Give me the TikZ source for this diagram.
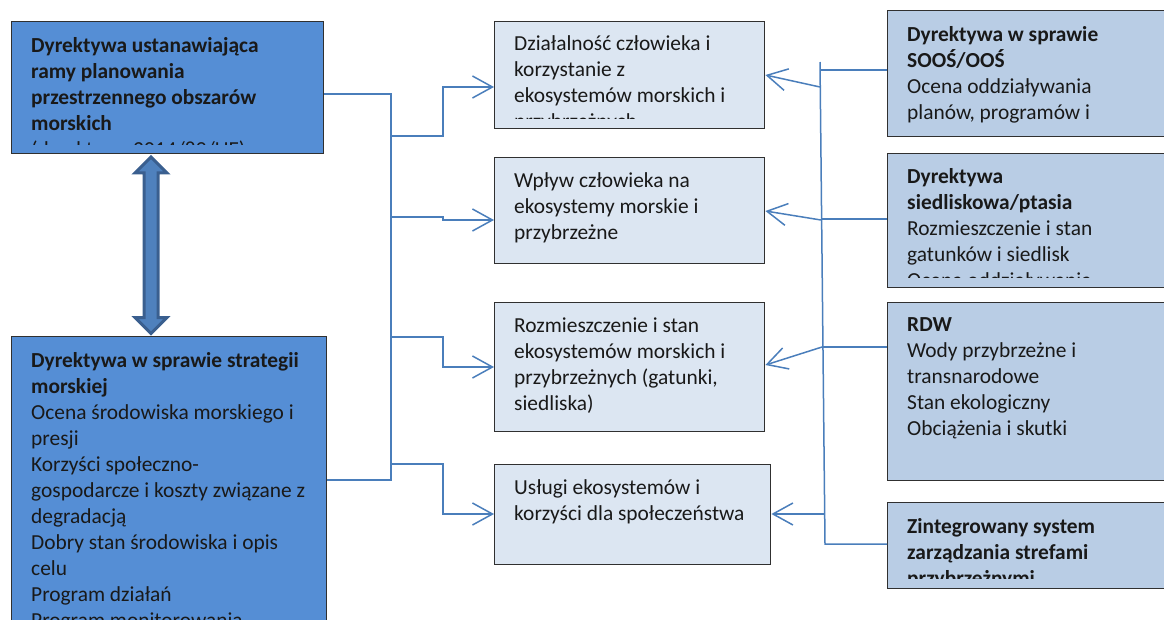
\documentclass[tikz,border=0pt]{standalone}
\usepackage{fontspec}
\setmainfont{Carlito}
\usepackage{xcolor}
\usepackage{tikz}
\usetikzlibrary{arrows.meta,calc}

\definecolor{deepbox}{HTML}{558ED5}
\definecolor{palebox}{HTML}{DCE6F2}
\definecolor{midbox}{HTML}{B9CDE5}
\definecolor{linkblue}{HTML}{4A7EBB}
\definecolor{edgegray}{HTML}{303030}
\definecolor{arrowdark}{HTML}{3A5F8F}
\definecolor{arrowfill}{HTML}{4F81BD}

\begin{document}
\begin{tikzpicture}[x=1pt,y=-1pt,
    box/.style={draw=edgegray,line width=1.4pt,anchor=north west,inner sep=0pt},
    txt/.style={anchor=north west,inner sep=0pt,align=left,text=black!90,
      font=\fontsize{21.4}{26}\selectfont,execute at begin node=\strut},
    link/.style={draw=linkblue,line width=1.5pt},
    feed/.style={link,-{Straight Barb[length=20pt,width=22pt,line width=1.5pt]}}]

    % Page
    \clip (0,0) rectangle (1164,619);

    % Left boxes
    \node[box,fill=deepbox,minimum width=312,minimum height=132] (tl) at (11,21) {};
    \node[box,fill=deepbox,minimum width=315,minimum height=289] (bl) at (11,336) {};

    % Middle boxes
    \node[box,fill=palebox,minimum width=270,minimum height=107] (m1) at (494,21) {};
    \node[box,fill=palebox,minimum width=270,minimum height=106] (m2) at (494,157) {};
    \node[box,fill=palebox,minimum width=270,minimum height=129] (m3) at (494,302) {};
    \node[box,fill=palebox,minimum width=276,minimum height=100] (m4) at (494,464) {};

    % Right boxes
    \node[box,fill=midbox,minimum width=283,minimum height=126] (r1) at (887,10) {};
    \node[box,fill=midbox,minimum width=283,minimum height=134] (r2) at (887,153) {};
    \node[box,fill=midbox,minimum width=283,minimum height=178] (r3) at (887,302) {};
    \node[box,fill=midbox,minimum width=283,minimum height=86] (r4) at (887,502) {};

    % Texts (cut a little above the box edge)
    \begin{scope}
      \clip (tl.north west) rectangle ($(tl.south east)+(0,-10)$);
      \node[txt] (tlt) at (31,36.8) {\textbf{Dyrektywa ustanawiająca}\\\textbf{ramy planowania}\\
        \textbf{przestrzennego obszarów}\\\textbf{morskich}\\(dyrektywa 2014/89/UE)};
    \end{scope}
    \node[txt] (blt) at (31,351.8) {\textbf{Dyrektywa w sprawie strategii}\\\textbf{morskiej}\\
      Ocena środowiska morskiego i\\presji\\Korzyści społeczno-\\
      gospodarcze i koszty związane z\\degradacją\\Dobry stan środowiska i opis\\
      celu\\Program działań\\Program monitorowania};

    \begin{scope}
      \clip (m1.north west) rectangle ($(m1.south east)+(0,-11)$);
      \node[txt] (m1t) at (514,35.8) {Działalność człowieka i\\korzystanie z\\
        ekosystemów morskich i\\przybrzeżnych};
    \end{scope}
    \node[txt] (m2t) at (514,172.8) {Wpływ człowieka na\\ekosystemy morskie i\\przybrzeżne};
    \node[txt] (m3t) at (514,317.8) {Rozmieszczenie i stan\\ekosystemów morskich i\\
      przybrzeżnych (gatunki,\\siedliska)};
    \node[txt] (m4t) at (514,479.8) {Usługi ekosystemów i\\korzyści dla społeczeństwa};

    \node[txt] (r1t) at (907,25.8) {\textbf{Dyrektywa w sprawie}\\\textbf{SOOŚ/OOŚ}\\
      Ocena oddziaływania\\planów, programów i};
    \begin{scope}
      \clip (r2.north west) rectangle ($(r2.south east)+(0,-11)$);
      \node[txt] (r2t) at (907,167.8) {\textbf{Dyrektywa}\\\textbf{siedliskowa/ptasia}\\
        Rozmieszczenie i stan\\gatunków i siedlisk\\Ocena oddziaływania};
    \end{scope}
    \node[txt] (r3t) at (907,317.8) {\textbf{RDW}\\Wody przybrzeżne i\\transnarodowe\\
      Stan ekologiczny\\Obciążenia i skutki};
    \begin{scope}
      \clip (r4.north west) rectangle ($(r4.south east)+(0,-11)$);
      \node[txt] (r4t) at (907,517.8) {\textbf{Zintegrowany system}\\
        \textbf{zarządzania strefami}\\\textbf{przybrzeżnymi}};
    \end{scope}

    % Double arrow between the left boxes
    \coordinate (ax) at (151,0);
    \coordinate (up) at ($(tl.south -| ax)+(0,2.5)$);
    \coordinate (dn) at ($(bl.north -| ax)+(0,-2.5)$);
    \draw[draw=arrowdark,fill=arrowfill,line width=3pt,line join=miter]
      (up) -- ++(16,16) -- ++(-9,0) |- ($(dn)+(7,-16)$) -- ++(9,0) -- (dn)
      -- ++(-16,-16) -- ++(9,0) |- ($(up)+(-7,16)$) -- ++(-9,0) -- cycle;

    % Left connectors
    \coordinate (la) at (391,94);
    \coordinate (lb) at (391,480);
    \draw[link] (tl.east |- la) -- (la) -- (lb) -- (bl.east |- lb);
    \draw[feed] (391,136) -| (443,87) -- (m1.west |- 0,87);
    \draw[feed] (391,217) -- (443,217) -- (443,220) -- (m2.west |- 0,220);
    \draw[feed] (391,337) -| (443,367) -- (m3.west |- 0,367);
    \draw[feed] (391,464) -| (443,514) -- (m4.west |- 0,514);

    % Right connectors
    \coordinate (ra) at (820,62);
    \coordinate (rb) at (825,544);
    \draw[link] (ra) -- (rb) -- (r4.west |- rb);
    \draw[link] (820,70) -- (r1.west |- 0,70);
    \draw[link] (821,219) -- (r2.west |- 0,219);
    \draw[link] (822,347) -- (r3.west |- 0,347);
    \draw[feed] (820,87) -- (m1.east |- 0,75);
    \draw[feed] (821,220) -- (m2.east |- 0,211);
    \draw[feed] (822,347) -- (m3.east |- 0,365);
    \draw[feed] (824,514) -- (m4.east |- 0,514);

\end{tikzpicture}
\end{document}
